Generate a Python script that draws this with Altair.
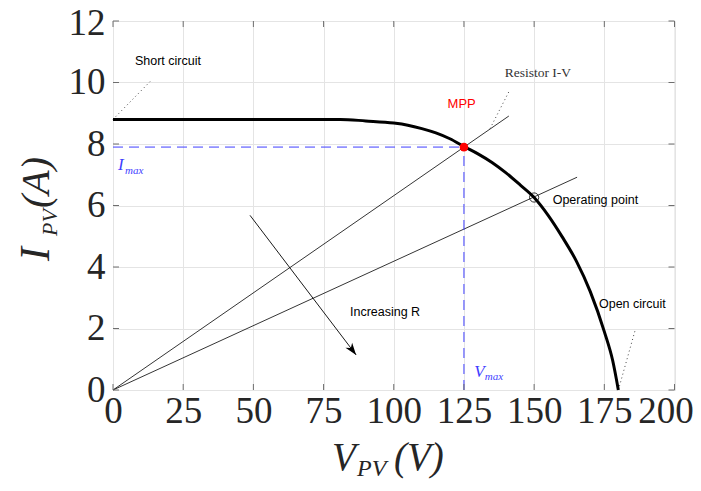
import altair as alt
import pandas as pd

# ---------------- data ----------------
V_curve = [0, 20, 40, 60, 81, 90, 100, 105, 110, 115, 120, 125, 130, 135, 140, 145, 150, 155, 160, 165, 170, 175, 178, 180]
I_curve = [8.8, 8.8, 8.8, 8.8, 8.8, 8.75, 8.68, 8.61, 8.5, 8.36, 8.17, 7.92, 7.68, 7.4, 7.06, 6.67, 6.26, 5.68, 4.98, 4.2, 3.2, 1.9, 0.95, 0]

V_max = 125
I_max = 7.9
V_op = 150
I_op = 6.26

# resistor load lines (start, end)
res_V1 = [0, 0]
res_I1 = [0, 0]
res_V2 = [141, 165.3]
res_I2 = [8.91, 6.92]

# dotted leaders
lead_V1 = [0, 134.3, 180]
lead_I1 = [8.8, 8.5, 0]
lead_V2 = [13.2, 141.4, 186]
lead_I2 = [10.03, 9.77, 1.95]

# arrow "Increasing R"
arrow_V = [48.8, 86.6]
arrow_I = [5.68, 1.14]

# annotation texts
ann_text = ["Short circuit", "Operating point", "Open circuit", "Increasing R"]
ann_V = [7.8, 156.6, 173.1, 84.4]
ann_I = [10.71, 6.17, 2.79, 2.54]

x_ticks = [0, 25, 50, 75, 100, 125, 150, 175, 200]
y_ticks = [0, 2, 4, 6, 8, 10, 12]

W = 561.5
H = 369
SERIF = "Liberation Serif"
SANS = "Liberation Sans"
FRAME = "#6e6e6e"
BLUE = "#3f3fff"

xs = alt.Scale(domain=[0, 200], nice=False, zero=False)
ys = alt.Scale(domain=[0, 12], nice=False, zero=False)
xaxis = alt.Axis(values=x_ticks, title=None, grid=True, ticks=False, domain=False,
                 labelFont=SERIF, labelFontSize=37, labelColor="#262626", labelPadding=3,
                 labelFlush=False, labelOverlap=False, gridColor="#e4e4e4",
                 labelOffset={"condition": {"test": "datum.value == 200", "value": -9}, "value": 0})
yaxis = alt.Axis(values=y_ticks, title=None, grid=True, ticks=False, domain=False,
                 labelFont=SERIF, labelFontSize=37, labelColor="#262626", labelPadding=8,
                 labelOverlap=False, gridColor="#e4e4e4",
                 labelOffset={"condition": {"test": "datum.value == 12", "value": 2}, "value": 0})


def X(f):
    return alt.X(f, scale=xs, axis=xaxis)


def Y(f):
    return alt.Y(f, scale=ys, axis=yaxis)


curve_df = pd.DataFrame({"V": V_curve, "I": I_curve})
res_df = pd.DataFrame({"V": res_V1, "I": res_I1, "V2": res_V2, "I2": res_I2})
lead_df = pd.DataFrame({"V": lead_V1, "I": lead_I1, "V2": lead_V2, "I2": lead_I2})
dash_df = pd.DataFrame({"V": [0, V_max], "I": [I_max, 0], "V2": [V_max, V_max], "I2": [I_max, I_max]})
arrow_df = pd.DataFrame({"V": [arrow_V[0]], "I": [arrow_I[0]], "V2": [arrow_V[1]], "I2": [arrow_I[1]]})
tip_df = pd.DataFrame({"V": [arrow_V[1]], "I": [arrow_I[1]]})
mpp_df = pd.DataFrame({"V": [V_max], "I": [I_max]})
op_df = pd.DataFrame({"V": [V_op], "I": [I_op]})
ann_df = pd.DataFrame({"t": ann_text, "V": ann_V, "I": ann_I})
xt_df = pd.DataFrame({"V": x_ticks})
yt_df = pd.DataFrame({"I": y_ticks})

layers = []

layers.append(alt.Chart(res_df).mark_rule(color="black", strokeWidth=0.8).encode(
    x=X("V:Q"), y=Y("I:Q"), x2="V2:Q", y2="I2:Q"))
layers.append(alt.Chart(dash_df).mark_rule(color=BLUE, strokeWidth=1, strokeDash=[10, 6]).encode(
    x=X("V:Q"), y=Y("I:Q"), x2="V2:Q", y2="I2:Q"))
layers.append(alt.Chart(lead_df).mark_rule(color="#444444", strokeWidth=1, strokeDash=[1, 3]).encode(
    x=X("V:Q"), y=Y("I:Q"), x2="V2:Q", y2="I2:Q"))
layers.append(alt.Chart(curve_df).mark_line(color="black", strokeWidth=3, interpolate="monotone").encode(
    x=X("V:Q"), y=Y("I:Q")))
layers.append(alt.Chart(arrow_df).mark_rule(color="black", strokeWidth=0.9).encode(
    x=X("V:Q"), y=Y("I:Q"), x2="V2:Q", y2="I2:Q"))
layers.append(alt.Chart(tip_df).mark_point(
    shape="M0,0L-0.55,1.6L0,1.15L0.55,1.6Z", filled=True, color="black", opacity=1,
    size=230, angle=142.9).encode(x=X("V:Q"), y=Y("I:Q")))
layers.append(alt.Chart(mpp_df).mark_point(filled=True, color="red", opacity=1, size=75).encode(
    x=X("V:Q"), y=Y("I:Q")))
layers.append(alt.Chart(op_df).mark_point(filled=False, color="black", opacity=1, size=85,
                                          strokeWidth=0.8).encode(x=X("V:Q"), y=Y("I:Q")))

# annotations
layers.append(alt.Chart(ann_df).mark_text(font=SANS, fontSize=12.5, align="left", baseline="middle",
                                          color="black").encode(x=X("V:Q"), y=Y("I:Q"), text="t:N"))
layers.append(alt.Chart(pd.DataFrame({"t": ["MPP"], "V": [124.2], "I": [9.31]})).mark_text(
    font=SANS, fontSize=13, align="center", baseline="middle", color="red").encode(
    x=X("V:Q"), y=Y("I:Q"), text="t:N"))
layers.append(alt.Chart(pd.DataFrame({"t": ["Resistor I-V"], "V": [139.5], "I": [10.3]})).mark_text(
    font=SERIF, fontSize=13.5, align="left", baseline="middle", color="#333333").encode(
    x=X("V:Q"), y=Y("I:Q"), text="t:N"))

# I_max / V_max labels
sub_df = pd.DataFrame({"t": ["I", "max", "V", "max"],
                       "V": [1.8, 4.3, 128.7, 132.4],
                       "I": [7.14, 7.03, 0.42, 0.33],
                       "fs": [17, 11, 17, 11]})
for i in range(4):
    layers.append(alt.Chart(sub_df.iloc[[i]]).mark_text(
        font=SERIF, fontStyle="italic", fontSize=float(sub_df.fs[i]), align="left",
        baseline="alphabetic", color=BLUE).encode(x=X("V:Q"), y=Y("I:Q"), text="t:N"))

# inward ticks on all four sides
layers.append(alt.Chart(yt_df).mark_rule(color=FRAME, strokeWidth=1).encode(
    y=Y("I:Q"), x=alt.value(0), x2=alt.value(6)))
layers.append(alt.Chart(yt_df).mark_rule(color=FRAME, strokeWidth=1).encode(
    y=Y("I:Q"), x=alt.value(W - 6), x2=alt.value(W)))
layers.append(alt.Chart(xt_df).mark_rule(color=FRAME, strokeWidth=1).encode(
    x=X("V:Q"), y=alt.value(H - 6), y2=alt.value(H)))
layers.append(alt.Chart(xt_df).mark_rule(color=FRAME, strokeWidth=1).encode(
    x=X("V:Q"), y=alt.value(0), y2=alt.value(6)))


# axis titles built from pieces (for the subscripts)
def piece(text, x, y, size, angle=0):
    return alt.Chart(pd.DataFrame({"t": [text]})).mark_text(
        font=SERIF, fontStyle="italic", fontSize=size, align="left", baseline="alphabetic",
        angle=angle, color="#262626").encode(text="t:N", x=alt.value(x), y=alt.value(y))


layers += [
    piece("V", 219, 449, 39),
    piece("PV", 244, 455, 24),
    piece("(V)", 281, 449, 39),
    piece("I", -64, 240, 42, 270),
    piece("PV", -56, 215, 22, 270),
    piece("(A)", -64, 187, 40, 270),
]

chart = alt.layer(*layers).properties(
    width=W, height=H,
    autosize=alt.AutoSizeParams(type="none"),
    padding={"left": 105, "top": 13, "right": 18, "bottom": 89},
).configure_view(stroke=FRAME, strokeWidth=1).configure(background="white")

chart.save("out.html", embed_options={"renderer": "svg", "actions": False})
